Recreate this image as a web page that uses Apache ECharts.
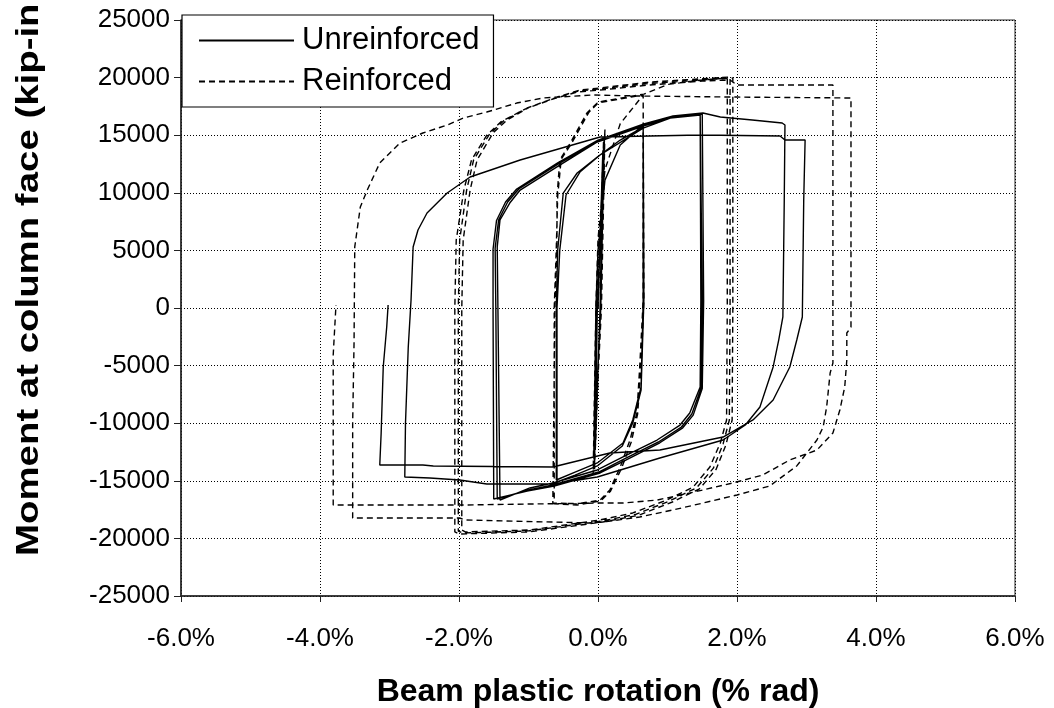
<!DOCTYPE html>
<html>
<head>
<meta charset="utf-8">
<script src="https://cdn.jsdelivr.net/npm/echarts@6/dist/echarts.min.js"></script>
<style>
html,body{margin:0;padding:0;background:#fff;}
#chart{width:1054px;height:708px;}
</style>
</head>
<body>
<div id="chart"></div>
<script>
// Axis ticks and titles
var xTicks = [-6, -4, -2, 0, 2, 4, 6];
var yTicks = [-25000, -20000, -15000, -10000, -5000, 0, 5000, 10000, 15000, 20000, 25000];
var seriesNames = ['Unreinforced', 'Reinforced'];
var xTitle = 'Beam plastic rotation (% rad)';
var yTitle = 'Moment at column face (kip-in';

// Unreinforced: beam plastic rotation (% rad) and moment (kip-in), in loading order
var unreinforcedRot = [
  0, 0.07, 0.03, -0.04, -0.01, 0.09, 0.04, -0.06, -0.03,
  0, 0.10, 0.32, 0.65,
  0.65, 0.62, 0.50, 0.36, -0.01, -0.33, -0.60,
  -0.60, -0.58, -0.50, -0.30, -0.01, 0.32, 0.65,
  0.66, 0.62, 0.50, 0.35, -0.01, -0.33, -0.59,
  -0.59, -0.55, -0.46, -0.26, 0.03, 0.65,
  1.04, 1.47,
  1.48, 1.47, 1.32, 1.18, 0.85, 0.36, -0.01, -0.65, -0.98, -1.41,
  -1.44, -1.45, -1.41, -1.27, -1.12, -0.55, -0.01, 0.65, 1.04, 1.47,
  1.50, 1.49, 1.35, 1.20, 0.87, 0.38, 0.01, -0.65, -1.00, -1.45,
  -1.47, -1.48, -1.43, -1.30, -1.14, -0.57, 0, 0.66, 1.06, 1.50,
  1.52, 1.50, 1.37, 1.22, 0.89, 0.40, 0.03, -0.63, -1.02, -1.50,
  -1.51, -1.51, -1.46, -1.33, -1.17, -0.58, 0, 0.66, 1.08, 1.51,
  1.76, 2.22, 2.65, 2.69,
  2.68, 2.66, 2.60, 2.52, 2.33, 2.12, 1.80, 0.89, -0.01, -0.65, -1.60, -1.99, -2.42, -2.78,
  -2.77, -2.73, -2.69, -2.66, -2.59, -2.46, -2.17, -1.84, -1.12, 0.03, 0.75, 1.47, 2.62, 2.69, 2.98,
  2.96, 2.94, 2.86, 2.76, 2.52, 2.23, 1.80, 0.89, 0.17, -0.65, -2.37, -2.52, -3.14,
  -3.12, -3.09, -3.04, -3.02
];
var unreinforcedMom = [
  0, 13700, 0, -12300, 0, 14600, 0, -12800, 0,
  5000, 11100, 14150, 15900,
  700, -6860, -9720, -11720, -13450, -14240, -14930,
  0, 5030, 9980, 11720, 13110, 14580, 15710,
  690, -7120, -9980, -11980, -13710, -14500, -15100,
  0, 5030, 9810, 11800, 13280, 15620,
  16490, 16750,
  690, -6860, -9110, -10160, -11460, -12930, -14060, -15190, -15620, -16670,
  0, 5300, 7640, 9110, 10240, 12410, 14410, 15800, 16490, 16840,
  690, -6860, -9200, -10330, -11630, -13100, -14240, -15360, -15800, -16580,
  0, 5200, 7640, 9200, 10330, 12500, 14500, 15880, 16580, 16840,
  600, -7000, -9300, -10400, -11700, -13200, -14320, -15450, -15900, -16580,
  0, 5100, 7600, 9200, 10330, 12590, 14580, 15970, 16670, 16930,
  16580, 16320, 16060, 15880,
  9370, -780, -2780, -5120, -8590, -10160, -11460, -13020, -14670, -15280, -15280, -14930, -14760, -14670,
  -10000, -3390, 690, 5300, 6770, 8250, 9980, 11370, 12850, 14840, 14930, 15020, 14930, 14580, 14580,
  9370, -780, -2780, -5120, -7990, -9720, -11200, -12330, -12590, -13800, -13710, -13630, -13630,
  -10850, -5120, -1650, 260
];

// Reinforced: beam plastic rotation (% rad) and moment (kip-in), in loading order
var reinforcedRot = [
  0, 0.08, 0.04, -0.05, -0.02, 0.10, 0.05, -0.07, -0.03,
  0, 0.10, 0.32, 0.65,
  0.65, 0.60, 0.56, 0.46, 0.32, 0.17, 0.03, -0.30, -0.65,
  -0.62, -0.59, -0.59, -0.55, -0.40, -0.16, -0.01, 0.65,
  0.66, 0.62, 0.57, 0.48, 0.34, 0.18, 0.04, -0.30, -0.63,
  -0.63, -0.60, -0.58, -0.53, -0.37, -0.13, 0.02, 0.66,
  1.00, 1.50, 1.86,
  1.86, 1.85, 1.76, 1.61, 1.37, 0.99, 0.50, 0.03, -0.98, -1.91, -1.96,
  -1.96, -1.94, -1.84, -1.74, -1.51, -1.31, -0.98, -0.59, -0.26, 0.03, 0.75, 1.50, 1.90,
  1.90, 1.89, 1.80, 1.66, 1.42, 1.03, 0.55, 0.05, -1.00, -1.95, -2.01,
  -2.01, -1.99, -1.89, -1.79, -1.56, -1.36, -1.02, -0.62, -0.28, 0.03, 0.75, 1.50, 1.94,
  1.94, 1.93, 1.84, 1.70, 1.46, 1.07, 0.58, 0.07, -1.00, -2.00, -2.06,
  -2.06, -2.04, -1.93, -1.82, -1.60, -1.40, -1.05, -0.65, -0.30, 0.03, 0.75, 1.50, 1.90, 2.00, 2.50, 3.38,
  3.38, 3.34, 3.29, 3.24, 3.15, 2.86, 2.47, 2.00, 1.51, 1.08, 0.60, 0.07, -0.12, -1.91, -1.99, -3.53,
  -3.53, -3.51, -3.50, -3.42, -3.32, -3.14, -2.85, -2.52, -2.17, -1.94, -1.60, -1.17, -0.79, -0.07, 0.60, 2.00, 3.64,
  3.64, 3.58, 3.58, 3.55, 3.48, 3.38, 3.15, 2.76, 2.37, 1.94, 1.32, 0.85, 0.36, -0.01, -1.91, -1.99, -3.81,
  -3.81, -3.77
];
var reinforcedMom = [
  0, 14500, 0, -14000, 0, 15500, 0, -14500, 0,
  6000, 12000, 16000, 18490,
  690, -5120, -9110, -11460, -13800, -15800, -16670, -17000, -16930,
  0, 5300, 9630, 12850, 14320, 16930, 17790, 18490,
  600, -5120, -9200, -11600, -13900, -15900, -16750, -17100, -17000,
  0, 5300, 9700, 12900, 14400, 17000, 17900, 18570,
  19400, 19800, 19960,
  0, -9720, -11720, -13800, -15540, -16670, -17790, -18400, -19270, -19440, -19270,
  0, 5900, 10240, 12850, 15190, 16320, 17450, 18310, 18920, 19100, 19620, 19900, 20050,
  0, -9720, -11800, -13900, -15600, -16750, -17900, -18500, -19350, -19530, -19360,
  0, 5900, 10240, 12850, 15100, 16240, 17360, 18230, 18840, 19020, 19500, 19790, 19960,
  0, -9720, -11900, -14000, -15700, -16840, -18000, -18580, -19440, -19620, -19440,
  0, 5900, 10240, 12850, 15000, 16150, 17270, 18140, 18750, 18920, 19360, 19700, 19790, 19360, 19360, 19360,
  -4770, -5640, -8590, -10330, -11460, -13710, -15450, -16230, -16930, -17530, -18140, -18580, -18660, -18400, -18230, -18230,
  -10000, -3000, 5300, 8770, 10240, 12590, 14320, 15190, 15880, 16490, 17010, 17790, 18230, 18490, 18400, 18310, 18230,
  -1650, -2170, -4510, -6860, -8850, -10850, -12330, -13190, -14500, -15190, -16060, -16670, -16930, -16930, -17100, -17100, -17100,
  -4080, 260
];

function zip(xs, ys) {
  var out = [];
  for (var i = 0; i < xs.length; i++) out.push([xs[i], ys[i]]);
  return out;
}

var FONT = '"Liberation Sans", Arial, sans-serif';
var chart = echarts.init(document.getElementById('chart'), null, {renderer: 'canvas'});
chart.setOption({
  animation: false,
  backgroundColor: '#fff',
  grid: {left: 181, right: 39, top: 20, bottom: 112, containLabel: false, outerBoundsMode: 'none',
    show: true, borderColor: '#222', borderWidth: 1, backgroundColor: 'transparent'},
  legend: {
    left: 182, top: 15,
    orient: 'vertical',
    data: seriesNames,
    backgroundColor: '#fff',
    borderColor: '#000', borderWidth: 1.2,
    borderRadius: 0,
    padding: [10, 14, 10, 16],
    itemGap: 10,
    itemWidth: 95, itemHeight: 2,
    itemStyle: {opacity: 0},
    textStyle: {fontFamily: FONT, fontSize: 31, color: '#000', padding: [0, 0, 0, 3]},
    selectedMode: false
  },
  graphic: [{
    type: 'text',
    x: 29, y: 556,
    rotation: Math.PI / 2,
    scaleX: 1.2,
    silent: true,
    style: {
      text: yTitle,
      font: 'bold 32px "Liberation Sans", Arial, sans-serif',
      fill: '#000',
      align: 'left',
      verticalAlign: 'middle'
    }
  }],
  xAxis: {
    type: 'value', min: xTicks[0], max: xTicks[xTicks.length - 1], interval: 2,
    name: xTitle, nameLocation: 'middle', nameGap: 80,
    nameTextStyle: {fontFamily: FONT, fontSize: 32, fontWeight: 'bold', color: '#000'},
    axisLine: {onZero: false, lineStyle: {color: '#222', width: 1.5}},
    axisTick: {show: true, length: 6, lineStyle: {color: '#222', width: 1}},
    axisLabel: {margin: 30, fontFamily: FONT, fontSize: 26, color: '#000',
      formatter: function (v) { return v.toFixed(1) + '%'; }},
    splitLine: {show: true, lineStyle: {color: '#000', width: 1, type: [1, 2]}}
  },
  yAxis: {
    type: 'value', min: yTicks[0], max: yTicks[yTicks.length - 1], interval: 5000,
    axisLine: {onZero: false, lineStyle: {color: '#222', width: 1.5}},
    axisTick: {show: true, length: 7, lineStyle: {color: '#222', width: 1}},
    axisLabel: {margin: 11, fontFamily: FONT, fontSize: 26, color: '#000',
      formatter: function (v) { return String(v); }},
    splitLine: {show: true, lineStyle: {color: '#000', width: 1, type: [1, 2]}}
  },
  series: [
    {
      name: seriesNames[0], type: 'line', data: zip(unreinforcedRot, unreinforcedMom),
      showSymbol: false, symbol: 'none', smooth: false, z: 3,
      lineStyle: {color: '#000', width: 1.4, type: 'solid'},
      itemStyle: {color: '#000'}
    },
    {
      name: seriesNames[1], type: 'line', data: zip(reinforcedRot, reinforcedMom),
      showSymbol: false, symbol: 'none', smooth: false, z: 3,
      lineStyle: {color: '#000', width: 1.4, type: [6, 4]},
      itemStyle: {color: '#000'}
    }
  ]
});
</script>
</body>
</html>
